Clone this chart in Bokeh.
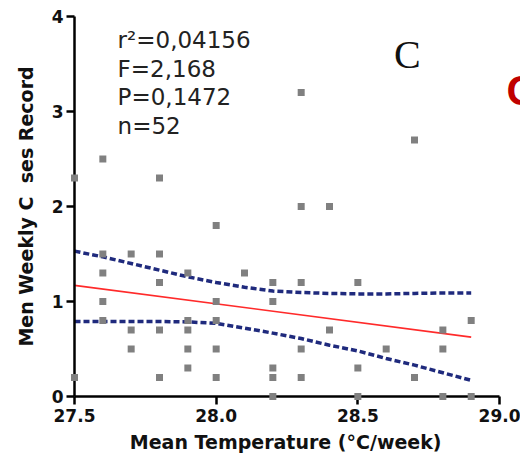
from bokeh.plotting import figure
from bokeh.models import Range1d, FixedTicker, Label, ColumnDataSource
from bokeh.embed import file_html
from bokeh.resources import INLINE

# ---- data ----
temp = [27.5, 27.5,
        27.6, 27.6, 27.6, 27.6, 27.6,
        27.7, 27.7, 27.7,
        27.8, 27.8, 27.8, 27.8, 27.8,
        27.9, 27.9, 27.9, 27.9, 27.9,
        28.0, 28.0, 28.0, 28.0, 28.0,
        28.1,
        28.2, 28.2, 28.2, 28.2, 28.2,
        28.3, 28.3, 28.3, 28.3, 28.3,
        28.4, 28.4,
        28.5, 28.5, 28.5,
        28.6,
        28.7, 28.7,
        28.8, 28.8, 28.8,
        28.9, 28.9]
cases = [2.3, 0.2,
         2.5, 1.5, 1.3, 1.0, 0.8,
         1.5, 0.7, 0.5,
         2.3, 1.5, 1.2, 0.7, 0.2,
         1.3, 0.8, 0.7, 0.5, 0.3,
         1.8, 1.0, 0.8, 0.5, 0.2,
         1.3,
         1.2, 1.0, 0.3, 0.2, 0.0,
         3.2, 2.0, 1.2, 0.5, 0.2,
         2.0, 0.7,
         1.2, 0.3, 0.0,
         0.5,
         2.7, 0.2,
         0.7, 0.5, 0.0,
         0.8, 0.0]

fit_x = [27.5, 28.9]
fit_y = [1.17, 0.625]

band_x = [27.5, 27.6, 27.7, 27.8, 27.9, 28.0, 28.1, 28.2, 28.3, 28.4, 28.5, 28.6, 28.7, 28.8, 28.9]
band_upper = [1.53, 1.47, 1.40, 1.33, 1.26, 1.20, 1.15, 1.11, 1.095, 1.085, 1.08, 1.08, 1.085, 1.09, 1.09]
band_lower = [0.79, 0.79, 0.79, 0.79, 0.785, 0.77, 0.72, 0.667, 0.61, 0.54, 0.48, 0.40, 0.33, 0.25, 0.17]

x_ticks = [27.5, 28.0, 28.5, 29.0]
y_ticks = [0, 1, 2, 3, 4]

stats_lines = ["r\u00b2=0,04156", "F=2,168", "P=0,1472", "n=52"]

x_label = "Mean Temperature (\u00b0C/week)"
y_label = "Men Weekly C\u00a0\u00a0ses Record"

# ---- figure ----
# frame runs to the right edge of the page; the axis itself stops at 29.0
p = figure(width=520, height=456, output_backend="svg", toolbar_location=None,
           x_range=Range1d(27.5, 29.074), y_range=Range1d(0, 4),
           min_border_left=74, min_border_right=0, min_border_top=16, min_border_bottom=60)
p.outline_line_color = None
p.xgrid.visible = False
p.ygrid.visible = False
p.background_fill_color = "white"

for ax in (p.xaxis[0], p.yaxis[0]):
    ax.axis_line_width = 2.5
    ax.axis_line_color = "black"
    ax.major_tick_line_width = 2.5
    ax.major_tick_out = 8
    ax.major_tick_in = 0
    ax.minor_tick_out = 0
    ax.minor_tick_in = 0
    ax.major_label_text_font = "DejaVu Sans"
    ax.major_label_text_font_style = "bold"
    ax.major_label_text_font_size = "17px"
    ax.major_label_text_color = "#111111"
    ax.axis_label_text_font = "DejaVu Sans"
    ax.axis_label_text_font_style = "bold"
    ax.axis_label_text_font_size = "19px"
    ax.axis_label_text_color = "#111111"

p.xaxis.ticker = FixedTicker(ticks=x_ticks)
p.xaxis.bounds = (x_ticks[0], x_ticks[-1])
p.xaxis.major_label_overrides = {t: f"{t:.1f}" for t in x_ticks}
p.xaxis.major_label_standoff = 4
# trailing spaces shift the centred title left to sit under the 27.5-29.0 axis
p.xaxis.axis_label = x_label + "\u00a0\u00a0\u00a0\u2009"
p.xaxis.axis_label_standoff = 6

p.yaxis.ticker = FixedTicker(ticks=y_ticks)
p.yaxis.major_label_standoff = 3
p.yaxis.axis_label = y_label
p.yaxis.axis_label_standoff = 12

# confidence bands
p.line(band_x, band_upper, line_color="#1f2a7d", line_width=3.5, line_dash="6 3")
p.line(band_x, band_lower, line_color="#1f2a7d", line_width=3.5, line_dash="6 3")

# regression line
p.line(fit_x, fit_y, line_color="#ff2a2a", line_width=1.6)

# points
src = ColumnDataSource(data=dict(x=temp, y=cases))
r = p.scatter("x", "y", source=src, marker="square", size=7,
              fill_color="#808080", line_color=None)
r.level = "overlay"

# stats text
for i, s in enumerate(stats_lines):
    p.add_layout(Label(x=27.652, y=3.75 - i * 0.30, text=s,
                       text_font="DejaVu Sans", text_font_size="23px",
                       text_color="#222222", text_baseline="middle", text_align="left"))

# panel letter
p.add_layout(Label(x=28.675, y=3.6, text="C", text_font="Liberation Serif",
                   text_font_size="40px", text_color="#111111",
                   text_align="center", text_baseline="middle"))
# cropped red letter at the right edge
p.add_layout(Label(x=29.025, y=3.22, text="C", text_font="Liberation Sans",
                   text_font_style="bold", text_font_size="42px", text_color="#c00000",
                   text_align="left", text_baseline="middle"))

open("out.html", "w").write(file_html(p, INLINE))
